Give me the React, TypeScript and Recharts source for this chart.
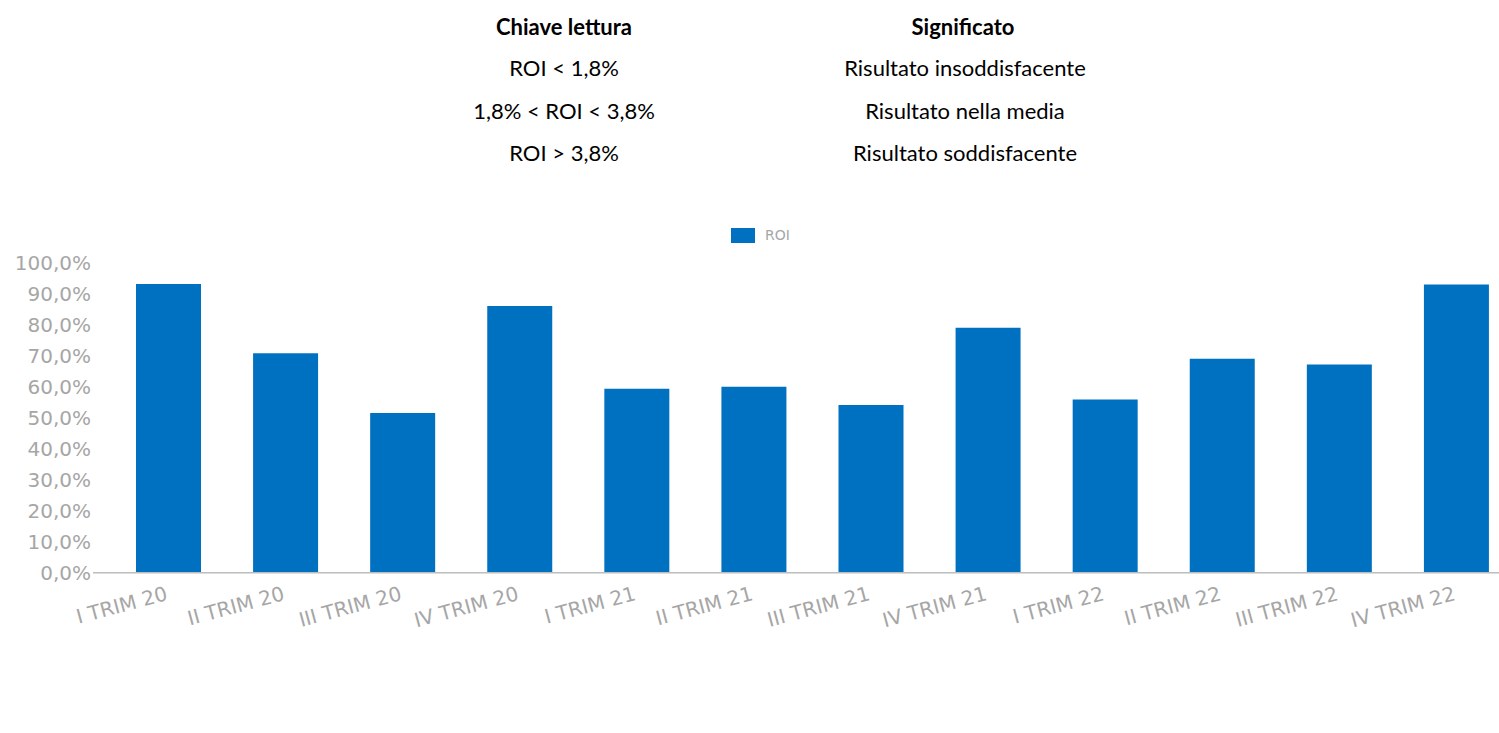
import React from "react";
import { BarChart, Bar, XAxis, YAxis, Legend } from "recharts";

const categories = [
  "I TRIM 20", "II TRIM 20", "III TRIM 20", "IV TRIM 20",
  "I TRIM 21", "II TRIM 21", "III TRIM 21", "IV TRIM 21",
  "I TRIM 22", "II TRIM 22", "III TRIM 22", "IV TRIM 22",
];
const roiValues = [93.1, 70.8, 51.5, 86.0, 59.3, 60.0, 54.1, 79.0, 55.9, 69.0, 67.2, 93.0];
const yTicks = [0, 10, 20, 30, 40, 50, 60, 70, 80, 90, 100];
const keyHeaders = ["Chiave lettura", "Significato"];
const keyLabels = ["ROI < 1,8%", "1,8% < ROI < 3,8%", "ROI > 3,8%"];
const keyMeanings = ["Risultato insoddisfacente", "Risultato nella media", "Risultato soddisfacente"];

const data = categories.map((c, i) => ({ name: c, ROI: roiValues[i] }));

const BAR_COLOR = "#0070C0";
const GREY = "#a6a6a6";

const fmt = (v: number) => v.toFixed(1).replace(".", ",") + "%";

const LegendContent = () => (
  <div style={{ position: "relative", height: 20 }}>
    <div style={{ position: "absolute", left: 731, top: 3, width: 24, height: 15, background: BAR_COLOR }} />
    <div style={{ position: "absolute", left: 765, top: 0, fontFamily: "DejaVu Sans", fontSize: 14, color: GREY, lineHeight: "20px" }}>ROI</div>
  </div>
);

const XTick = (props: any) => {
  const { x, y, payload } = props;
  return (
    <g transform={`translate(${x},${y + 19})`}>
      <text x={0} y={0} textAnchor="end" transform="rotate(-15)" fill={GREY} fontFamily="DejaVu Sans" fontSize={20}>
        {payload.value}
      </text>
    </g>
  );
};

const textStyle: React.CSSProperties = {
  position: "absolute",
  transform: "translate(-50%, -50%)",
  fontFamily: "Lato, 'Liberation Sans', sans-serif",
  fontSize: 22,
  color: "#000",
  whiteSpace: "nowrap",
};

export default function App() {
  const rowsY = [67, 110, 152];
  return (
    <div style={{ position: "absolute", left: 0, top: 0, width: 1499, height: 733, overflow: "hidden", background: "#fff" }}>
      <div style={{ ...textStyle, left: 564, top: 26, fontWeight: 700 }}>{keyHeaders[0]}</div>
      <div style={{ ...textStyle, left: 963, top: 26, fontWeight: 700 }}>{keyHeaders[1]}</div>
      {keyLabels.map((t, i) => (
        <div key={"l" + i} style={{ ...textStyle, left: 564, top: rowsY[i] }}>{t}</div>
      ))}
      {keyMeanings.map((t, i) => (
        <div key={"m" + i} style={{ ...textStyle, left: 965, top: rowsY[i] }}>{t}</div>
      ))}
      <div style={{ position: "absolute", left: 0, top: 0 }}>
        <BarChart width={1530} height={733} data={data} margin={{ top: 242.7, right: 15, bottom: 100.3, left: 0 }}>
          <Legend verticalAlign="top" height={20} wrapperStyle={{ top: 225, left: 0, width: 1530 }} content={<LegendContent />} />
          <YAxis
            domain={[0, 100]}
            ticks={yTicks}
            tickFormatter={fmt}
            width={93}
            axisLine={false}
            tickLine={false}
            tickSize={0}
            tickMargin={2}
            interval={0}
            tick={{ fill: GREY, fontFamily: "DejaVu Sans", fontSize: 20 }}
          />
          <XAxis
            dataKey="name"
            height={60}
            padding={{ left: 17, right: 0 }}
            interval={0}
            axisLine={{ stroke: "#bdbdbd", strokeWidth: 1.5 }}
            tickLine={false}
            tick={<XTick />}
          />
          <Bar dataKey="ROI" fill={BAR_COLOR} barSize={65} isAnimationActive={false} />
        </BarChart>
      </div>
    </div>
  );
}
